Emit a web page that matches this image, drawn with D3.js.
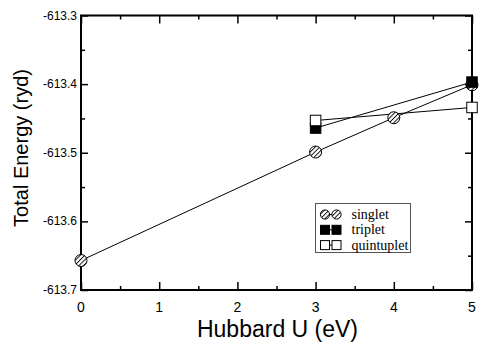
<!DOCTYPE html>
<html>
<head>
<meta charset="utf-8">
<script src="https://cdn.jsdelivr.net/npm/d3@7"></script>
<style>
  body { margin: 0; background: #fff; }
  svg { display: block; }
</style>
</head>
<body>
<svg id="svg" width="479" height="343"></svg>
<script>
// data
const uSinglet = [0, 3, 4, 5];
const eSinglet = [-613.657, -613.499, -613.449, -613.401];
const uTriplet = [3, 5];
const eTriplet = [-613.464, -613.397];
const uQuint = [3, 5];
const eQuint = [-613.453, -613.434];
const xTicks = [0, 1, 2, 3, 4, 5];
const yTicks = [-613.7, -613.6, -613.5, -613.4, -613.3];
const legendNames = ["singlet", "triplet", "quintuplet"];

const svg = d3.select('#svg');
const plotLeft = 81, plotRight = 472, plotTop = 15.5, plotBottom = 290;

const x = d3.scaleLinear().domain([0, 5]).range([plotLeft, plotRight]);
const y = d3.scaleLinear().domain([-613.7, -613.3]).range([plotBottom, plotTop]);

// hatch pattern for the circles
const defs = svg.append('defs');
const pat = defs.append('pattern')
  .attr('id', 'hatch')
  .attr('patternUnits', 'userSpaceOnUse')
  .attr('width', 3.2).attr('height', 3.2)
  .attr('patternTransform', 'rotate(45)');
pat.append('rect').attr('width', 3.2).attr('height', 3.2).attr('fill', '#fff');
pat.append('line').attr('x1', 0).attr('y1', 0).attr('x2', 0).attr('y2', 3.2)
  .attr('stroke', '#000').attr('stroke-width', 1.8);

// axes: ticks inward, all four sides
const tickStyle = g => {
  g.select('.domain').remove();
  g.selectAll('line').attr('stroke', '#000').attr('stroke-width', 1.5);
};

const xMinor = d3.range(0.5, 5, 1);
const yMinor = d3.range(-613.65, -613.3, 0.1);

svg.append('g').attr('transform', `translate(0,${plotBottom})`)
  .call(d3.axisBottom(x).tickValues(xTicks).tickSize(-8).tickFormat(''))
  .call(tickStyle);
svg.append('g').attr('transform', `translate(0,${plotBottom})`)
  .call(d3.axisBottom(x).tickValues(xMinor).tickSize(-4).tickFormat(''))
  .call(tickStyle);
svg.append('g').attr('transform', `translate(0,${plotTop})`)
  .call(d3.axisTop(x).tickValues(xTicks).tickSize(-8).tickFormat(''))
  .call(tickStyle);
svg.append('g').attr('transform', `translate(0,${plotTop})`)
  .call(d3.axisTop(x).tickValues(xMinor).tickSize(-4).tickFormat(''))
  .call(tickStyle);
svg.append('g').attr('transform', `translate(${plotLeft},0)`)
  .call(d3.axisLeft(y).tickValues(yTicks).tickSize(-7).tickFormat(''))
  .call(tickStyle);
svg.append('g').attr('transform', `translate(${plotLeft},0)`)
  .call(d3.axisLeft(y).tickValues(yMinor).tickSize(-4).tickFormat(''))
  .call(tickStyle);
svg.append('g').attr('transform', `translate(${plotRight},0)`)
  .call(d3.axisRight(y).tickValues(yTicks).tickSize(-7).tickFormat(''))
  .call(tickStyle);
svg.append('g').attr('transform', `translate(${plotRight},0)`)
  .call(d3.axisRight(y).tickValues(yMinor).tickSize(-4).tickFormat(''))
  .call(tickStyle);

// frame
svg.append('rect')
  .attr('x', plotLeft).attr('y', plotTop)
  .attr('width', plotRight - plotLeft).attr('height', plotBottom - plotTop)
  .attr('fill', 'none').attr('stroke', '#000').attr('stroke-width', 2);

// tick labels
svg.append('g').selectAll('text').data(xTicks).enter().append('text')
  .attr('x', d => x(d)).attr('y', plotBottom + 22)
  .attr('text-anchor', 'middle')
  .style('font-family', 'Liberation Sans, Arial, sans-serif')
  .style('font-size', '14px')
  .text(d => d);

svg.append('g').selectAll('text').data(yTicks).enter().append('text')
  .attr('x', plotLeft - 4).attr('y', d => y(d) + 4)
  .attr('text-anchor', 'end')
  .style('font-family', 'Liberation Sans, Arial, sans-serif')
  .style('font-size', '12px')
  .text(d => d.toFixed(1));

// axis titles
svg.append('text')
  .attr('x', (plotLeft + plotRight) / 2 + 1).attr('y', 337)
  .attr('text-anchor', 'middle')
  .style('font-family', 'Liberation Sans, Arial, sans-serif')
  .style('font-size', '23px')
  .text('Hubbard U (eV)');

svg.append('text')
  .attr('transform', 'translate(28,148) rotate(-90)')
  .attr('text-anchor', 'middle')
  .style('font-family', 'Liberation Sans, Arial, sans-serif')
  .style('font-size', '20px')
  .text('Total Energy (ryd)');

// series
const line = d3.line().x(d => x(d[0])).y(d => y(d[1]));
const singlet = d3.zip(uSinglet, eSinglet);
const triplet = d3.zip(uTriplet, eTriplet);
const quint = d3.zip(uQuint, eQuint);

[singlet, triplet, quint].forEach(s => {
  svg.append('path').datum(s).attr('d', line)
    .attr('fill', 'none').attr('stroke', '#000').attr('stroke-width', 1);
});

const drawCircle = (g, cx, cy, r) => g.append('circle')
  .attr('cx', cx).attr('cy', cy).attr('r', r)
  .attr('fill', 'url(#hatch)').attr('stroke', '#000').attr('stroke-width', 1);
const drawSquare = (g, cx, cy, s, fill) => g.append('rect')
  .attr('x', cx - s / 2).attr('y', cy - s / 2).attr('width', s).attr('height', s)
  .attr('fill', fill).attr('stroke', '#000').attr('stroke-width', 1);

const marks = svg.append('g');
singlet.forEach(d => drawCircle(marks, x(d[0]), y(d[1]), 6));
triplet.forEach(d => drawSquare(marks, x(d[0]), y(d[1]), 10.5, '#000'));
quint.forEach(d => drawSquare(marks, x(d[0]), y(d[1]), 10.5, '#fff'));

// legend
const lg = svg.append('g');
lg.append('rect')
  .attr('x', 315.5).attr('y', 203.5).attr('width', 95).attr('height', 49)
  .attr('fill', '#fff').attr('stroke', '#555').attr('stroke-width', 1);

legendNames.forEach((name, i) => {
  const cy = 214.5 + i * 15.3;
  lg.append('line').attr('x1', 325).attr('x2', 336.5).attr('y1', cy).attr('y2', cy)
    .attr('stroke', '#000');
  [325, 336.5].forEach(cx => {
    if (i === 0) drawCircle(lg, cx, cy, 4.6);
    else drawSquare(lg, cx, cy, 9, i === 1 ? '#000' : '#fff');
  });
  lg.append('text')
    .attr('x', 351.5).attr('y', cy + 4.5)
    .style('font-family', 'Liberation Serif, Times New Roman, serif')
    .style('font-size', '14px')
    .text(name);
});
</script>
</body>
</html>
